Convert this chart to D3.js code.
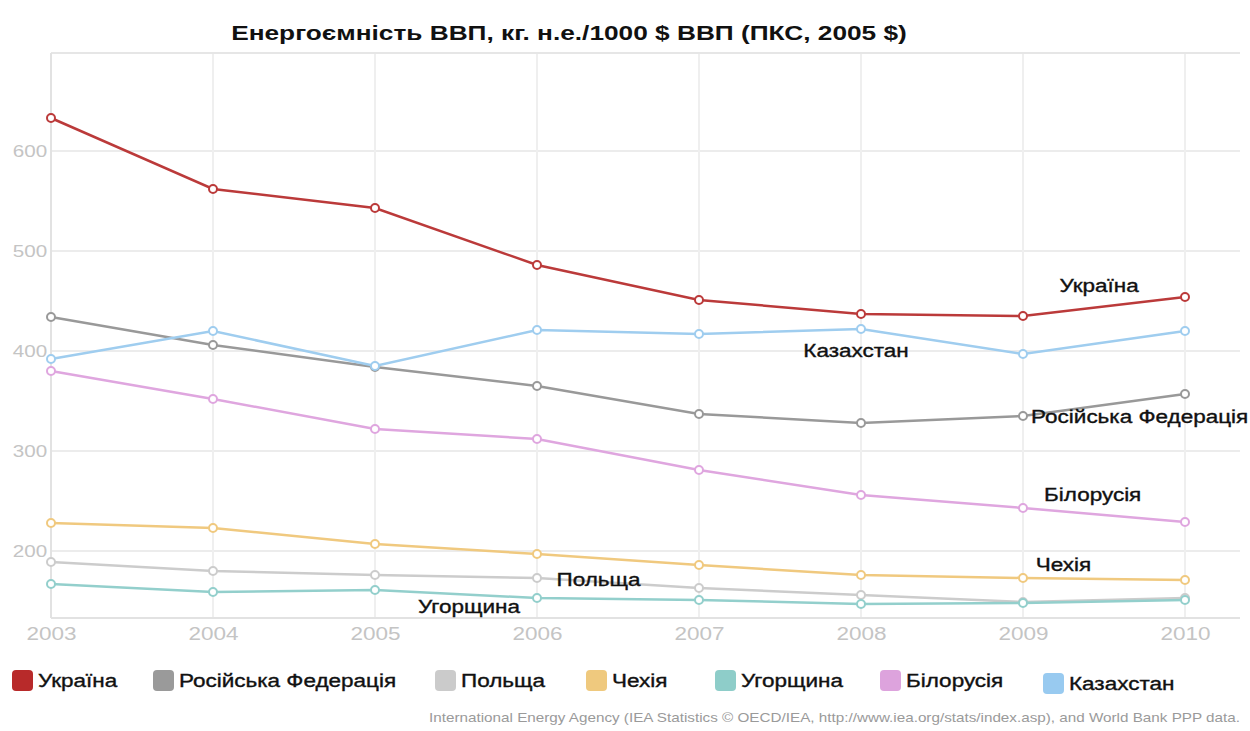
<!DOCTYPE html>
<html>
<head>
<meta charset="utf-8">
<script src="https://cdn.jsdelivr.net/npm/d3@7"></script>
<style>
  body { margin: 0; background: #fff; }
  text { font-family: "Liberation Sans", Arial, sans-serif; }
</style>
</head>
<body>
<script>
// data
const years = [2003, 2004, 2005, 2006, 2007, 2008, 2009, 2010];
const yTicks = [200, 300, 400, 500, 600];

const ukraine    = [633, 562, 543, 486, 451, 437, 435, 454];
const russia     = [434, 406, 384, 365, 337, 328, 335, 357];
const poland     = [189, 180, 176, 173, 163, 156, 149, 153];
const czech      = [228, 223, 207, 197, 186, 176, 173, 171];
const hungary    = [167, 159, 161, 153, 151, 147, 148, 151];
const belarus    = [380, 352, 322, 312, 281, 256, 243, 229];
const kazakhstan = [392, 420, 385, 421, 417, 422, 397, 420];

const names = ['Україна', 'Російська Федерація', 'Польща', 'Чехія', 'Угорщина', 'Білорусія', 'Казахстан'];
const colors = ['#bb3a3a', '#999999', '#cccccc', '#f0c97f', '#93cfcc', '#dfa6df', '#9fcdef'];
const legendColors = ['#b82a2a', '#9a9a9a', '#cbcbcb', '#efc97e', '#8ecdc9', '#dda3dd', '#98caf0'];

const series = [ukraine, russia, poland, czech, hungary, belarus, kazakhstan].map((v, i) => ({
    name: names[i], color: colors[i], values: v
}));

const W = 1250, H = 731;
const SX = 1.25; // the original text is drawn a bit wide
const svg = d3.select('body').append('svg')
    .attr('width', W).attr('height', H);

const x = d3.scaleLinear().domain([2003, 2010]).range([51, 1185]);
const y = d3.scaleLinear().domain([133, 698]).range([618, 53]);
const plotRight = 1240;

// put a text at (px, py) and widen it
function place(sel, px, py) {
    sel.attr('transform', (d, i) => {
        const a = typeof px === 'function' ? px(d, i) : px;
        const b = typeof py === 'function' ? py(d, i) : py;
        return `translate(${a},${b}) scale(${SX},1)`;
    });
}

// title
svg.append('text')
    .call(place, 569, 40)
    .attr('text-anchor', 'middle')
    .attr('font-size', 21).attr('font-weight', 'bold')
    .attr('fill', '#111')
    .text('Енергоємність ВВП, кг. н.е./1000 $ ВВП (ПКС, 2005 $)');

const grid = svg.append('g');

// horizontal grid
grid.selectAll('line.h').data(yTicks).enter().append('line')
    .attr('x1', x(2003)).attr('x2', plotRight)
    .attr('y1', d => y(d)).attr('y2', d => y(d))
    .attr('stroke', '#ececec').attr('stroke-width', 2);

// vertical grid
grid.selectAll('line.v').data(years).enter().append('line')
    .attr('x1', d => x(d)).attr('x2', d => x(d))
    .attr('y1', y.range()[1]).attr('y2', y.range()[0])
    .attr('stroke', '#efefef').attr('stroke-width', 2);

// frame: top, bottom, left
grid.append('line').attr('x1', x(2003)).attr('x2', plotRight)
    .attr('y1', y.range()[1]).attr('y2', y.range()[1])
    .attr('stroke', '#e6e6e6').attr('stroke-width', 2);
grid.append('line').attr('x1', x(2003)).attr('x2', plotRight)
    .attr('y1', y.range()[0]).attr('y2', y.range()[0])
    .attr('stroke', '#e2e2e2').attr('stroke-width', 2);
grid.append('line').attr('x1', x(2003)).attr('x2', x(2003))
    .attr('y1', y.range()[1]).attr('y2', y.range()[0])
    .attr('stroke', '#e2e2e2').attr('stroke-width', 2);

// y axis labels
const yAxis = d3.axisLeft(y).tickValues(yTicks).tickSize(0).tickPadding(3);
svg.append('g')
    .attr('transform', `translate(${x(2003)},0)`)
    .call(yAxis)
    .call(g => g.select('.domain').remove())
    .call(g => g.selectAll('text')
        .attr('transform', `scale(${SX},1)`)
        .attr('font-size', 16.5).attr('fill', '#c4c4c4')
        .attr('font-family', '"Liberation Sans", Arial, sans-serif'));

// x axis labels
const xAxis = d3.axisBottom(x).tickValues(years).tickFormat(d3.format('d')).tickSize(0).tickPadding(9);
svg.append('g')
    .attr('transform', `translate(0,${y.range()[0]})`)
    .call(xAxis)
    .call(g => g.select('.domain').remove())
    .call(g => g.selectAll('text')
        .attr('transform', `scale(${SX},1)`)
        .attr('font-size', 18).attr('fill', '#c4c4c4')
        .attr('font-family', '"Liberation Sans", Arial, sans-serif'));

// lines, drawn bottom-first so Ukraine sits on top
const line = d3.line().x((d, i) => x(years[i])).y(d => y(d));
const drawOrder = [2, 3, 4, 5, 1, 6, 0].map(i => series[i]);

const sg = svg.selectAll('g.series').data(drawOrder).enter().append('g');
sg.append('path')
    .attr('d', d => line(d.values))
    .attr('fill', 'none')
    .attr('stroke', d => d.color)
    .attr('stroke-width', 2.5);
sg.selectAll('circle').data(d => d.values.map(v => ({ v, c: d.color }))).enter().append('circle')
    .attr('cx', (d, i) => x(years[i]))
    .attr('cy', d => y(d.v))
    .attr('r', 4)
    .attr('fill', '#fff')
    .attr('stroke', d => d.c)
    .attr('stroke-width', 2);

// inline labels, anchored at a year/value with a small offset
const labels = [
    { name: 'Україна', year: 2009.47, value: 454, dx: 0, dy: -5 },
    { name: 'Казахстан', year: 2008, value: 397, dx: -5, dy: 3 },
    { name: 'Російська Федерація', year: 2009.72, value: 328, dx: 0, dy: 0 },
    { name: 'Білорусія', year: 2009.43, value: 243, dx: 0, dy: -7 },
    { name: 'Чехія', year: 2009.25, value: 173, dx: 0, dy: -7 },
    { name: 'Польща', year: 2006.38, value: 173, dx: 0, dy: 8 },
    { name: 'Угорщина', year: 2005.58, value: 148, dx: 0, dy: 10 }
];
svg.selectAll('text.lbl').data(labels).enter().append('text')
    .call(place, d => x(d.year) + d.dx, d => y(d.value) + d.dy)
    .attr('text-anchor', 'middle')
    .attr('font-size', 18)
    .attr('fill', '#111')
    .attr('stroke', '#111').attr('stroke-width', 0.35)
    .text(d => d.name);

// legend
const legendX = [12, 153, 435, 586, 715, 880, 1043];
const lg = svg.selectAll('g.legend').data(series).enter().append('g')
    .attr('transform', (d, i) => `translate(${legendX[i]},${i === 6 ? 673 : 670})`);
lg.append('rect')
    .attr('width', 21).attr('height', 21).attr('rx', 4)
    .attr('fill', (d, i) => legendColors[i]);
lg.append('text')
    .call(place, 26, 17)
    .attr('font-size', 18).attr('fill', '#111')
    .attr('stroke', '#111').attr('stroke-width', 0.35)
    .text(d => d.name);

// source note
svg.append('text')
    .call(place, 1240, 722)
    .attr('text-anchor', 'end')
    .attr('font-size', 12.2).attr('fill', '#9a9a9a')
    .text('International Energy Agency (IEA Statistics © OECD/IEA, http://www.iea.org/stats/index.asp), and World Bank PPP data.');
</script>
</body>
</html>
